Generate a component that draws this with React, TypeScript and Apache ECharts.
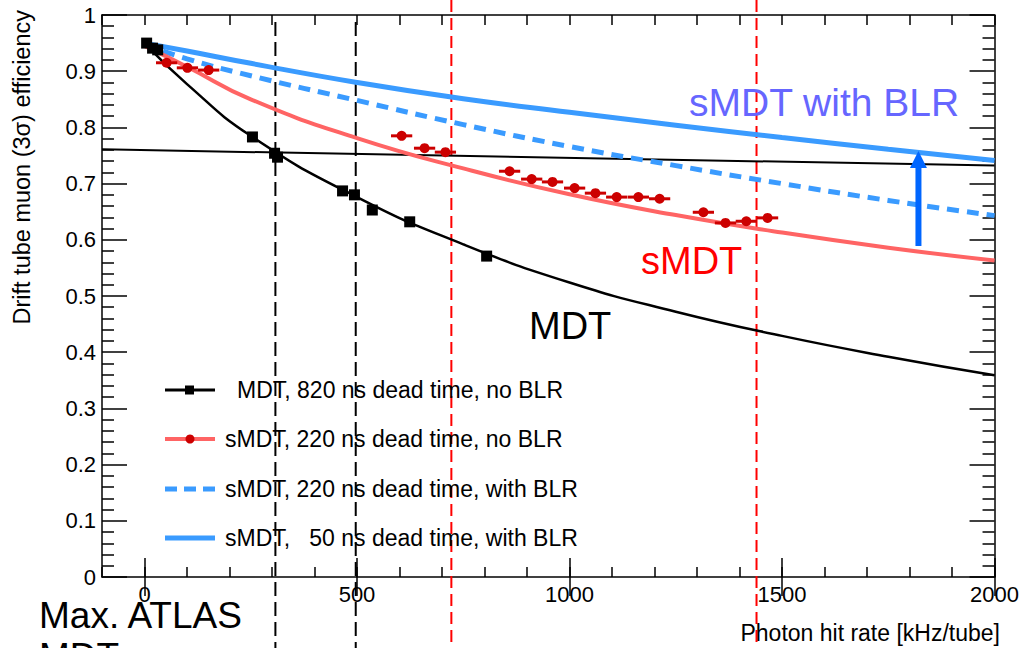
import React, { useEffect, useRef } from "react";
import * as echarts from "echarts";

// ---------- data ----------
const X_CURVE = [0, 100, 250, 500, 750, 1000, 1250, 1500, 1750, 2000];
const MDT_CURVE = [0.95, 0.877, 0.785, 0.676, 0.592, 0.524, 0.472, 0.429, 0.392, 0.359];
const SMDT_CURVE = [0.945, 0.908, 0.85, 0.781, 0.727, 0.681, 0.644, 0.613, 0.586, 0.563];
const SMDT_BLR_CURVE = [0.948, 0.922, 0.892, 0.848, 0.805, 0.766, 0.732, 0.7, 0.67, 0.643];
const SMDT50_BLR_CURVE = [0.95, 0.936, 0.914, 0.88, 0.851, 0.827, 0.804, 0.782, 0.761, 0.741];

const MDT_X = [5, 19, 31, 254, 306, 313, 466, 494, 536, 624, 805];
const MDT_Y = [0.95, 0.941, 0.938, 0.783, 0.754, 0.747, 0.687, 0.68, 0.653, 0.632, 0.571];

const SMDT_X = [52, 101, 151, 605, 659, 708, 859, 911, 960, 1012, 1061, 1111, 1162, 1212, 1315, 1367, 1416, 1466];
const SMDT_Y = [0.915, 0.906, 0.902, 0.785, 0.763, 0.756, 0.722, 0.708, 0.703, 0.692, 0.683, 0.676, 0.676, 0.673, 0.649, 0.63, 0.633, 0.639];
const SMDT_XERR = 25;

const HLINE_X = [-100, 2000];
const HLINE_Y = [0.761, 0.732];

const BLACK_VLINES = [308, 497];
const RED_VLINES = [722, 1440];

const ARROW_X = 1821;
const ARROW_FROM = 0.589;
const ARROW_TO = 0.758;

const X_TICKS = [0, 500, 1000, 1500, 2000];
const X_MIN = -100;
const X_MAX = 2000;

const NAME_MDT = "MDT, 820 ns dead time, no BLR";
const NAME_SMDT = "sMDT, 220 ns dead time, no BLR";
const NAME_SMDT_BLR = "sMDT, 220 ns dead time, with BLR";
const NAME_SMDT50_BLR = "sMDT,   50 ns dead time, with BLR";

const FONT = "'Liberation Sans', Arial, sans-serif";
const BLUE = "#3a9bff";
const LRED = "#ff6464";
const DRED = "#cc0000";

const pairs = (xs: number[], ys: number[]) => xs.map((x, i) => [x, ys[i]]);

export default function App() {
  const ref = useRef<HTMLDivElement>(null);
  useEffect(() => {
    if (!ref.current) return;
    const chart = echarts.init(ref.current, null, { renderer: "svg" });
    const axLine = { show: true, onZero: false, lineStyle: { color: "#000", width: 1.5 } };
    const tickStyle = { color: "#000", width: 1.5 };
    const labelStyle = { color: "#000", fontSize: 22, fontFamily: FONT };

    const xMinorAxis = (pos: string, labels: boolean) => ({
      type: "value",
      min: X_MIN,
      max: X_MAX,
      interval: 100,
      position: pos,
      axisLine: axLine,
      axisTick: { show: true, inside: true, length: 10, lineStyle: tickStyle },
      axisLabel: labels
        ? {
            show: true,
            interval: 0,
            margin: 6,
            ...labelStyle,
            formatter: (v: number) => (X_TICKS.indexOf(v) >= 0 ? String(v) : ""),
          }
        : { show: false },
      splitLine: { show: false },
    });
    const xMajorAxis = (pos: string) => ({
      type: "value",
      min: X_MIN,
      max: X_MAX,
      position: pos,
      axisLine: { show: false },
      axisTick: { show: true, inside: true, length: 19, customValues: X_TICKS, lineStyle: tickStyle },
      axisLabel: { show: false },
      splitLine: { show: false },
    });
    const yAxis = (pos: string, labels: boolean) => ({
      type: "value",
      min: 0,
      max: 1,
      interval: 0.1,
      position: pos,
      axisLine: axLine,
      axisTick: { show: true, inside: true, length: 25, lineStyle: tickStyle },
      minorTick: { show: true, splitNumber: 5, length: 12, lineStyle: tickStyle },
      axisLabel: labels
        ? { show: true, margin: 6, ...labelStyle, formatter: (v: number) => String(+v.toFixed(1)) }
        : { show: false },
      splitLine: { show: false },
      minorSplitLine: { show: false },
    });

    chart.setOption({
      animation: false,
      backgroundColor: "#fff",
      grid: { left: 102, right: 27, top: 15, bottom: 71, containLabel: false },
      xAxis: [xMinorAxis("bottom", true), xMajorAxis("bottom"), xMinorAxis("top", false), xMajorAxis("top")],
      yAxis: [yAxis("left", true), yAxis("right", false)],
      series: [
        {
          name: "Reference efficiency",
          type: "line",
          data: pairs(HLINE_X, HLINE_Y),
          symbol: "none",
          lineStyle: { color: "#000", width: 2 },
          z: 2,
        },
        {
          name: NAME_SMDT50_BLR,
          type: "line",
          data: pairs(X_CURVE, SMDT50_BLR_CURVE),
          smooth: true,
          symbol: "none",
          lineStyle: { color: BLUE, width: 5 },
          z: 3,
        },
        {
          name: NAME_SMDT_BLR,
          type: "line",
          data: pairs(X_CURVE, SMDT_BLR_CURVE),
          smooth: true,
          symbol: "none",
          lineStyle: { color: BLUE, width: 5, type: [12, 8] },
          z: 3,
        },
        {
          name: NAME_SMDT,
          type: "line",
          data: pairs(X_CURVE, SMDT_CURVE),
          smooth: true,
          symbol: "none",
          lineStyle: { color: LRED, width: 4 },
          z: 3,
        },
        {
          name: NAME_MDT,
          type: "line",
          data: pairs(X_CURVE, MDT_CURVE),
          smooth: true,
          symbol: "none",
          lineStyle: { color: "#000", width: 2.5 },
          z: 3,
        },
        {
          name: NAME_SMDT + " (error)",
          type: "custom",
          data: pairs(SMDT_X, SMDT_Y),
          encode: { x: 0, y: 1 },
          renderItem: (params: any, api: any) => {
            const x = api.value(0);
            const y = api.value(1);
            const p1 = api.coord([x - SMDT_XERR, y]);
            const p2 = api.coord([x + SMDT_XERR, y]);
            return {
              type: "line",
              shape: { x1: p1[0], y1: p1[1], x2: p2[0], y2: p2[1] },
              style: { stroke: DRED, lineWidth: 3 },
            };
          },
          z: 4,
        },
        {
          name: NAME_SMDT,
          type: "scatter",
          data: pairs(SMDT_X, SMDT_Y),
          symbol: "circle",
          symbolSize: 10,
          itemStyle: { color: DRED, opacity: 1 },
          z: 5,
        },
        {
          name: NAME_MDT,
          type: "scatter",
          data: pairs(MDT_X, MDT_Y),
          symbol: "rect",
          symbolSize: 11,
          itemStyle: { color: "#000", opacity: 1 },
          z: 5,
        },
      ],
    });

    const px = (v: number) => chart.convertToPixel({ xAxisIndex: 0 }, v) as number;
    const py = (v: number) => chart.convertToPixel({ yAxisIndex: 0 }, v) as number;

    const graphics: any[] = [];
    BLACK_VLINES.forEach((v) => {
      const x = px(v);
      graphics.push({
        type: "line",
        shape: { x1: x, y1: 22, x2: x, y2: 648 },
        style: { stroke: "#000", lineWidth: 2, lineDash: [14, 6] },
        z: 1,
      });
    });
    RED_VLINES.forEach((v) => {
      const x = px(v);
      graphics.push({
        type: "line",
        shape: { x1: x, y1: 0, x2: x, y2: 648 },
        style: { stroke: "#ff0000", lineWidth: 2, lineDash: [12, 6] },
        z: 1,
      });
    });
    // arrow
    const ax = px(ARROW_X);
    const ayFrom = py(ARROW_FROM);
    const ayTo = py(ARROW_TO);
    graphics.push({
      type: "line",
      shape: { x1: ax, y1: ayFrom, x2: ax, y2: ayTo + 14 },
      style: { stroke: "#0066ff", lineWidth: 6 },
      z: 20,
    });
    graphics.push({
      type: "polygon",
      shape: { points: [[ax, ayTo], [ax - 8.5, ayTo + 17], [ax + 8.5, ayTo + 17]] },
      style: { fill: "#0066ff" },
      z: 20,
    });

    const txt = (text: string, x: number, y: number, size: number, color: string, extra: any = {}) => ({
      type: "text",
      x,
      y,
      z: 20,
      style: { text, fill: color, fontSize: size, fontFamily: FONT, verticalAlign: "middle", align: "left", ...extra },
    });
    graphics.push(txt("sMDT with BLR", 689, 102, 39, "#6666ff"));
    graphics.push(txt("sMDT", 641, 261, 38, "#ff0000"));
    graphics.push(txt("MDT", 529, 326, 38, "#000"));
    graphics.push(txt("Max. ATLAS", 39, 615, 37, "#000"));
    graphics.push(txt("MDT", 39, 656, 37, "#000"));
    graphics.push(txt("Photon hit rate [kHz/tube]", 1000, 633, 23, "#000", { align: "right" }));
    graphics.push({
      type: "text",
      x: 22,
      y: 10,
      rotation: Math.PI / 2,
      z: 20,
      style: {
        text: "Drift tube muon (3σ) efficiency",
        fill: "#000",
        fontSize: 23.5,
        fontFamily: FONT,
        align: "right",
        verticalAlign: "middle",
      },
    });

    // legend
    const lx1 = 165;
    const lx2 = 215;
    const rows = [390, 439, 489, 538];
    graphics.push({ type: "line", shape: { x1: lx1, y1: rows[0], x2: lx2, y2: rows[0] }, style: { stroke: "#000", lineWidth: 3 }, z: 20 });
    graphics.push({ type: "rect", shape: { x: 185, y: rows[0] - 4.5, width: 9, height: 9 }, style: { fill: "#000" }, z: 21 });
    graphics.push(txt(NAME_MDT, 237, rows[0], 23, "#000"));
    graphics.push({ type: "line", shape: { x1: lx1, y1: rows[1], x2: lx2, y2: rows[1] }, style: { stroke: LRED, lineWidth: 4 }, z: 20 });
    graphics.push({ type: "circle", shape: { cx: 190, cy: rows[1], r: 4.5 }, style: { fill: DRED }, z: 21 });
    graphics.push(txt(NAME_SMDT, 225, rows[1], 23, "#000"));
    graphics.push({ type: "line", shape: { x1: lx1, y1: rows[2], x2: lx2, y2: rows[2] }, style: { stroke: BLUE, lineWidth: 5, lineDash: [12, 7] }, z: 20 });
    graphics.push(txt(NAME_SMDT_BLR, 225, rows[2], 23, "#000"));
    graphics.push({ type: "line", shape: { x1: lx1, y1: rows[3], x2: lx2, y2: rows[3] }, style: { stroke: BLUE, lineWidth: 5 }, z: 20 });
    graphics.push(txt(NAME_SMDT50_BLR, 225, rows[3], 23, "#000"));

    chart.setOption({ graphic: graphics });

    return () => chart.dispose();
  }, []);
  return (
    <div
      ref={ref}
      style={{ position: "absolute", left: 0, top: 0, width: 1022, height: 648, background: "#fff" }}
    />
  );
}
